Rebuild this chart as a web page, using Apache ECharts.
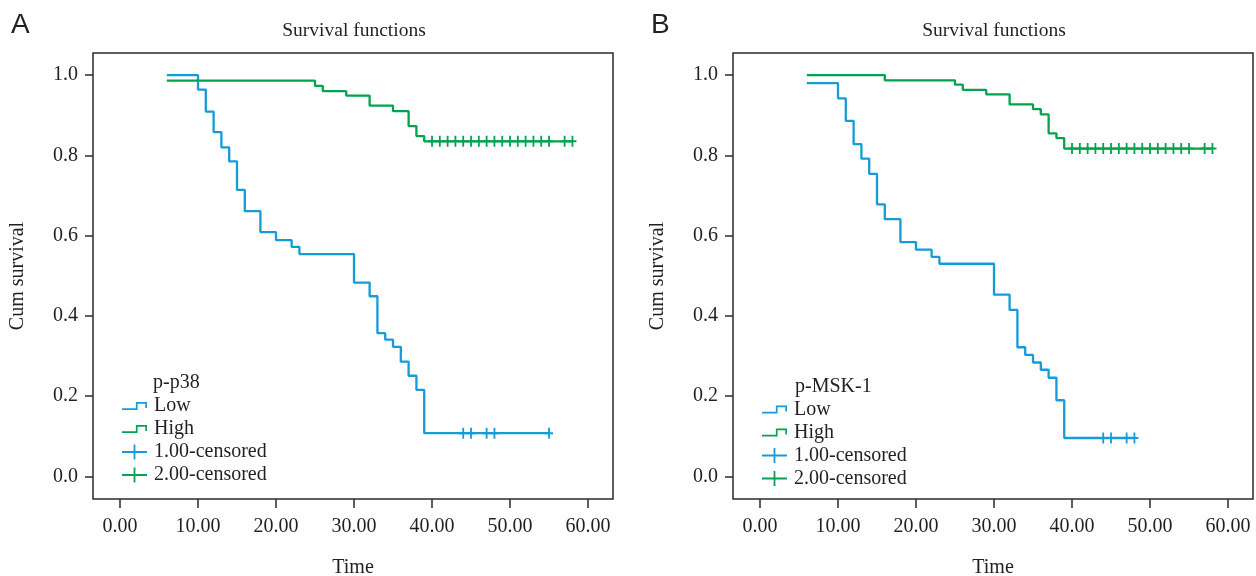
<!DOCTYPE html>
<html>
<head>
<meta charset="utf-8">
<script src="https://cdn.jsdelivr.net/npm/echarts@6/dist/echarts.min.js"></script>
<style>html,body{margin:0;padding:0;background:#fff;}#main{width:1256px;height:576px;}</style>
</head>
<body>
<div id="main"></div>
<script>
// ---------- data ----------
const xTicks = [0, 10, 20, 30, 40, 50, 60];
const yTicks = [0, 0.2, 0.4, 0.6, 0.8, 1.0];

// Panel A : p-p38
const lowTimesA  = [6, 10, 11, 12, 13, 14, 15, 16, 18, 20, 22, 23, 30, 32, 33, 34, 35, 36, 37, 38, 39];
const lowSurvA   = [1.000, 0.964, 0.909, 0.858, 0.820, 0.785, 0.714, 0.661, 0.609, 0.589, 0.572, 0.554, 0.483, 0.449, 0.357, 0.341, 0.323, 0.286, 0.251, 0.216, 0.108];
const lowCensorA = [44, 45, 47, 48, 55];
const highTimesA  = [6, 25, 26, 29, 32, 35, 37, 38, 39];
const highSurvA   = [0.986, 0.973, 0.960, 0.949, 0.924, 0.910, 0.873, 0.848, 0.835];
const highCensorA = [40, 41, 42, 43, 44, 45, 46, 47, 48, 49, 50, 51, 52, 53, 54, 55, 57, 58];

// Panel B : p-MSK-1
const lowTimesB  = [6, 10, 11, 12, 13, 14, 15, 16, 18, 20, 22, 23, 30, 32, 33, 34, 35, 36, 37, 38, 39];
const lowSurvB   = [0.980, 0.942, 0.886, 0.828, 0.792, 0.754, 0.678, 0.641, 0.584, 0.565, 0.547, 0.530, 0.453, 0.415, 0.322, 0.303, 0.284, 0.266, 0.246, 0.190, 0.096];
const lowCensorB = [44, 45, 47, 48];
const highTimesB  = [6, 16, 25, 26, 29, 32, 35, 36, 37, 38, 39];
const highSurvB   = [1.000, 0.987, 0.976, 0.963, 0.952, 0.927, 0.915, 0.902, 0.855, 0.843, 0.817];
const highCensorB = [40, 41, 42, 43, 44, 45, 46, 47, 48, 49, 50, 51, 52, 53, 54, 55, 57, 58];

const panelLetters = ['A', 'B'];
const panelTitle = 'Survival functions';
const legendTitles = ['p-p38', 'p-MSK-1'];
const groupNames = ['Low', 'High', '1.00-censored', '2.00-censored'];
const xName = 'Time';
const yName = 'Cum survival';

// ---------- styling ----------
const BLUE = '#149bd8';
const GREEN = '#02a34f';
const TXT = '#231f20';
const FS = 20;
const FONT = '"Liberation Serif", "DejaVu Serif", serif';
const stepIcon = 'path://M0,6.2H14.8V7.8H0Z M13.2,0.2H14.8V7.8H13.2Z M13.2,0.2H23.8V1.8H13.2Z M22.2,0.2H23.8V6H22.2Z';
const plusIcon = 'path://M0,6.6H25V8.4H0Z M11.6,0H13.4V15H11.6Z';
const censorMark = 'path://M0,4.1H8V5.9H0Z M3.1,0H4.9V10H3.1Z';

function stepAt(times, surv, t) {
  let v = surv[0];
  for (let i = 0; i < times.length; i++) if (times[i] <= t) v = surv[i];
  return v;
}
function curve(times, surv, censor) {
  const pts = times.map((t, i) => [t, surv[i]]);
  const last = censor.length ? censor[censor.length - 1] : times[times.length - 1];
  pts.push([last, surv[surv.length - 1]]);
  return pts;
}
function censorPts(times, surv, censor) {
  return censor.map(t => [t, stepAt(times, surv, t)]);
}

const panels = [
  {low: [lowTimesA, lowSurvA, lowCensorA], high: [highTimesA, highSurvA, highCensorA]},
  {low: [lowTimesB, lowSurvB, lowCensorB], high: [highTimesB, highSurvB, highCensorB]}
];
const offX = [0, 640];

const grids = [], xAxes = [], yAxes = [], series = [], legends = [], graphics = [];
panels.forEach((p, i) => {
  const left = 93 + offX[i];
  grids.push({left: left, top: 53, width: 520, height: 446, show: true, outerBoundsMode: 'none',
    borderColor: '#2b2b2b', borderWidth: 1.5, backgroundColor: 'transparent', containLabel: false});
  xAxes.push({type: 'value', gridIndex: i, min: -3.46, max: 63.2, position: 'bottom',
    name: xName, nameLocation: 'middle', nameGap: 59,
    nameTextStyle: {fontFamily: FONT, fontSize: FS, color: TXT},
    axisLine: {show: false, onZero: false}, splitLine: {show: false},
    axisTick: {show: true, inside: false, length: 9, customValues: xTicks, lineStyle: {color: '#2b2b2b', width: 1.5}},
    axisLabel: {customValues: xTicks, margin: 18, fontFamily: FONT, fontSize: FS, color: TXT,
      formatter: v => Number(v).toFixed(2)}});
  yAxes.push({type: 'value', gridIndex: i, min: -0.056, max: 1.055, position: 'left',
    name: yName, nameLocation: 'middle', nameGap: 65, nameRotate: 90,
    nameTextStyle: {fontFamily: FONT, fontSize: FS, color: TXT},
    axisLine: {show: false, onZero: false}, splitLine: {show: false},
    axisTick: {show: true, inside: false, length: 8, customValues: yTicks, lineStyle: {color: '#2b2b2b', width: 1.5}},
    axisLabel: {customValues: yTicks, margin: 15, fontFamily: FONT, fontSize: FS, color: TXT,
      formatter: v => Number(v).toFixed(1)}});
  series.push({name: groupNames[0], type: 'line', step: 'end', xAxisIndex: i, yAxisIndex: i,
    data: curve(...p.low), symbol: 'none', color: BLUE, itemStyle: {color: BLUE},
    lineStyle: {color: BLUE, width: 2.3}, silent: true, animation: false});
  series.push({name: groupNames[1], type: 'line', step: 'end', xAxisIndex: i, yAxisIndex: i,
    data: curve(...p.high), symbol: 'none', color: GREEN, itemStyle: {color: GREEN},
    lineStyle: {color: GREEN, width: 2.3}, silent: true, animation: false});
  series.push({name: groupNames[2], type: 'scatter', xAxisIndex: i, yAxisIndex: i,
    data: censorPts(...p.low), symbol: censorMark, symbolSize: [8, 11], color: BLUE,
    itemStyle: {color: BLUE, opacity: 1}, silent: true, animation: false, z: 3});
  series.push({name: groupNames[3], type: 'scatter', xAxisIndex: i, yAxisIndex: i,
    data: censorPts(...p.high), symbol: censorMark, symbolSize: [8, 11], color: GREEN,
    itemStyle: {color: GREEN, opacity: 1}, silent: true, animation: false, z: 3});

  const lx = 122 + offX[i];
  const dy = i === 0 ? 0 : 3.5;
  legends.push({orient: 'vertical', left: lx, top: 394.5 + dy, padding: 0, itemGap: 0,
    itemWidth: 25, itemHeight: 8, icon: stepIcon, selectedMode: false,
    data: [groupNames[0], groupNames[1]],
    itemStyle: {borderWidth: 0},
    textStyle: {fontFamily: FONT, fontSize: FS, color: TXT, lineHeight: 23, padding: [0, 0, 0, 2]}});
  legends.push({orient: 'vertical', left: lx, top: 440.5 + dy, padding: 0, itemGap: 0,
    itemWidth: 25, itemHeight: 15, icon: plusIcon, selectedMode: false,
    data: [groupNames[2], groupNames[3]],
    itemStyle: {borderWidth: 0},
    textStyle: {fontFamily: FONT, fontSize: FS, color: TXT, lineHeight: 23, padding: [0, 0, 0, 2]}});

  graphics.push({type: 'text', x: 153 + offX[i] + (i === 1 ? 2 : 0), y: 383 + dy,
    style: {text: legendTitles[i], font: FS + 'px ' + FONT, fill: TXT,
      textAlign: 'left', textVerticalAlign: 'middle', align: 'left', verticalAlign: 'middle'}});
  graphics.push({type: 'text', x: left + 261, y: 31,
    style: {text: panelTitle, font: '19.5px ' + FONT, fill: TXT,
      textAlign: 'center', textVerticalAlign: 'middle', align: 'center', verticalAlign: 'middle'}});
  graphics.push({type: 'text', x: 11 + offX[i], y: 25,
    style: {text: panelLetters[i], font: '28px "Liberation Sans", Arial, sans-serif', fill: TXT,
      textAlign: 'left', textVerticalAlign: 'middle', align: 'left', verticalAlign: 'middle'}});
});

const chart = echarts.init(document.getElementById('main'), null, {renderer: 'canvas'});
chart.setOption({
  animation: false,
  backgroundColor: '#ffffff',
  grid: grids, xAxis: xAxes, yAxis: yAxes, series: series,
  legend: legends, graphic: graphics
});
</script>
</body>
</html>
